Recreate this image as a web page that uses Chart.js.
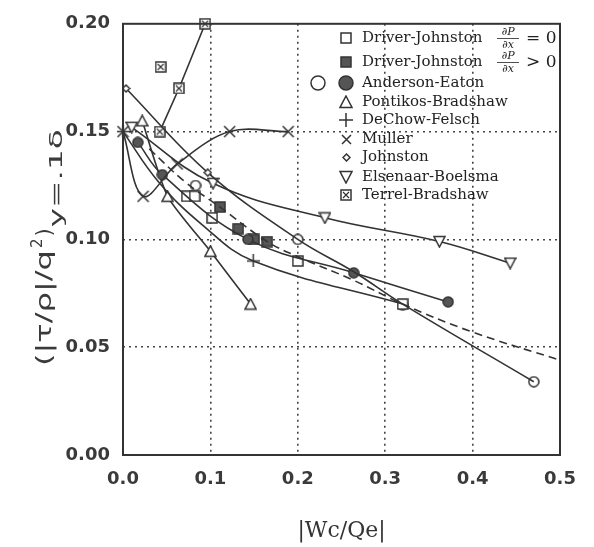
<!DOCTYPE html>
<html>
<head>
<meta charset="utf-8">
<script src="https://cdn.jsdelivr.net/npm/chart.js@4.4.1/dist/chart.umd.min.js"></script>
<style>
  html, body { margin: 0; padding: 0; background: #fff; }
  #wrap { width: 594px; height: 547px; }
</style>
</head>
<body>
<div id="wrap"><canvas id="chart" width="594" height="547"></canvas></div>
<script>
// tick labels
const xTickLabels = ['0.0', '0.1', '0.2', '0.3', '0.4', '0.5'];
const yTickLabels = ['0.00', '0.05', '0.10', '0.15', '0.20'];

const seriesNames = ['Driver-Johnston', 'Driver-Johnston', 'Anderson-Eaton', 'Pontikos-Bradshaw',
    'DeChow-Felsch', 'Muller', 'Johnston', 'Elsenaar-Boelsma', 'Terrel-Bradshaw'];

// Driver-Johnston, dP/dx = 0 (open squares)
const djZeroX = [0.073, 0.082, 0.102, 0.200, 0.320];
const djZeroY = [0.120, 0.120, 0.110, 0.090, 0.070];

// Driver-Johnston, dP/dx > 0 (filled squares)
const djPosX = [0.111, 0.132, 0.150, 0.165];
const djPosY = [0.115, 0.105, 0.100, 0.099];

// dashed curve through the Driver-Johnston data
const fitX = [0.030, 0.070, 0.111, 0.165, 0.200, 0.264, 0.320, 0.400, 0.500];
const fitY = [0.142, 0.127, 0.115, 0.099, 0.092, 0.081, 0.070, 0.057, 0.044];

// Anderson-Eaton
const aeFillX = [0.017, 0.045, 0.143, 0.264, 0.372];
const aeFillY = [0.145, 0.130, 0.100, 0.0845, 0.071];
const aeOpenX = [0.083, 0.200, 0.320, 0.470];
const aeOpenY = [0.125, 0.100, 0.0695, 0.034];

// Pontikos-Bradshaw
const pbX = [0.022, 0.051, 0.100, 0.146];
const pbY = [0.155, 0.120, 0.0945, 0.070];

// DeChow-Felsch (marks only on measured points)
const dfX = [0.000, 0.040, 0.090, 0.149, 0.320];
const dfY = [0.150, 0.127, 0.107, 0.090, 0.070];
const dfMarked = [true, false, false, true, false];

// Muller
const muX = [0.000, 0.023, 0.062, 0.122, 0.189];
const muY = [0.150, 0.120, 0.135, 0.150, 0.150];

// Johnston
const joX = [0.0035, 0.097, 0.200, 0.264, 0.320, 0.470];
const joY = [0.170, 0.131, 0.100, 0.085, 0.070, 0.034];
const joMarked = [true, true, false, false, false, false];

// Elsenaar-Boelsma
const ebX = [0.010, 0.103, 0.231, 0.362, 0.443];
const ebY = [0.152, 0.126, 0.110, 0.099, 0.089];

// Terrel-Bradshaw
const tbX = [0.042, 0.064, 0.094];
const tbY = [0.150, 0.170, 0.200];
const tbExtraX = [0.043];
const tbExtraY = [0.180];

const ink = '#333';
const fillInk = '#555';

function pts(xs, ys) {
    return xs.map((x, i) => ({ x: x, y: ys[i] }));
}

// little canvases used as point styles (and again in the legend)
function marker(kind, size) {
    const c = document.createElement('canvas');
    c.width = size; c.height = size;
    const g = c.getContext('2d');
    const m = size / 2;
    g.strokeStyle = ink;
    g.lineWidth = 1.5;
    g.fillStyle = '#fff';
    g.beginPath();
    if (kind === 'square' || kind === 'squareFill' || kind === 'boxX') {
        g.rect(1, 1, size - 2, size - 2);
        g.fillStyle = kind === 'squareFill' ? fillInk : '#fff';
        g.fill(); g.stroke();
        if (kind === 'boxX') {
            g.beginPath();
            g.moveTo(3, 3); g.lineTo(size - 3, size - 3);
            g.moveTo(size - 3, 3); g.lineTo(3, size - 3);
            g.lineWidth = 1.2;
            g.stroke();
        }
    } else if (kind === 'circle' || kind === 'circleFill') {
        g.arc(m, m, m - 1, 0, Math.PI * 2);
        g.fillStyle = kind === 'circleFill' ? fillInk : '#fff';
        g.fill(); g.stroke();
    } else if (kind === 'triUp') {
        g.moveTo(m, 1); g.lineTo(size - 1, size - 1.5); g.lineTo(1, size - 1.5); g.closePath();
        g.fill(); g.stroke();
    } else if (kind === 'triDown') {
        g.moveTo(1, 1.5); g.lineTo(size - 1, 1.5); g.lineTo(m, size - 1); g.closePath();
        g.fill(); g.stroke();
    } else if (kind === 'plus') {
        g.moveTo(m, 0); g.lineTo(m, size); g.moveTo(0, m); g.lineTo(size, m);
        g.stroke();
    } else if (kind === 'cross') {
        g.moveTo(1, 1); g.lineTo(size - 1, size - 1); g.moveTo(size - 1, 1); g.lineTo(1, size - 1);
        g.stroke();
    } else if (kind === 'diamond') {
        g.moveTo(m, 1); g.lineTo(size - 1, m); g.lineTo(m, size - 1); g.lineTo(1, m); g.closePath();
        g.fill(); g.stroke();
    }
    return c;
}

const mk = {
    square: marker('square', 12),
    squareFill: marker('squareFill', 12),
    circle: marker('circle', 12),
    circleFill: marker('circleFill', 12),
    triUp: marker('triUp', 13),
    triDown: marker('triDown', 13),
    plus: marker('plus', 13),
    cross: marker('cross', 13),
    diamond: marker('diamond', 9),
    boxX: marker('boxX', 12)
};
const lg = {
    square: marker('square', 12),
    squareFill: marker('squareFill', 12),
    circle: marker('circle', 16),
    circleFill: marker('circleFill', 16),
    triUp: marker('triUp', 14),
    triDown: marker('triDown', 14),
    plus: marker('plus', 14),
    cross: marker('cross', 11),
    diamond: marker('diamond', 9),
    boxX: marker('boxX', 12)
};

function series(data, style, opts) {
    return Object.assign({
        data: data,
        showLine: true,
        borderColor: ink,
        borderWidth: 1.6,
        pointStyle: style,
        pointRadius: 6,
        pointHoverRadius: 6,
        tension: 0.4,
        clip: false,
        fill: false
    }, opts || {});
}

const datasets = [
    series(pts(fitX, fitY), false, { borderDash: [8, 5], pointRadius: 0, tension: 0.4 }),
    series(pts(joX, joY), mk.diamond, { pointRadius: joMarked.map(b => b ? 6 : 0) }),
    series(pts(dfX, dfY), mk.plus, { pointRadius: dfMarked.map(b => b ? 6 : 0) }),
    series(pts(muX, muY), mk.cross, { tension: 0.35 }),
    series(pts(ebX, ebY), mk.triDown, {}),
    series(pts(aeFillX, aeFillY), mk.circleFill, {}),
    series(pts(pbX, pbY), mk.triUp, { tension: 0.2 }),
    series(pts(tbX, tbY), mk.boxX, { tension: 0 }),
    series(pts(tbExtraX, tbExtraY), mk.boxX, { showLine: false }),
    series(pts(djZeroX, djZeroY), mk.square, { showLine: false }),
    series(pts(aeOpenX, aeOpenY), mk.circle, { showLine: false }),
    series(pts(djPosX, djPosY), mk.squareFill, { showLine: false })
];

// draw text stretched to a given width
function fitText(ctx, text, x, y, width) {
    const w = ctx.measureText(text).width;
    ctx.save();
    ctx.translate(x, y);
    ctx.scale(width / w, 1);
    ctx.fillText(text, 0, 0);
    ctx.restore();
    return width;
}

const frameAndText = {
    id: 'frameAndText',
    afterDraw(chart) {
        const ctx = chart.ctx;
        const a = chart.chartArea;
        ctx.save();
        // plot frame
        ctx.strokeStyle = '#333';
        ctx.lineWidth = 2;
        ctx.strokeRect(a.left, a.top, a.right - a.left, a.bottom - a.top);

        // x title
        ctx.fillStyle = '#333';
        ctx.font = '22px "DejaVu Serif"';
        ctx.textAlign = 'center';
        ctx.textBaseline = 'middle';
        ctx.fillText('|Wc/Qe|', (a.left + a.right) / 2, 531);

        // y title, rotated
        ctx.save();
        ctx.translate(51, 366);
        ctx.rotate(-Math.PI / 2);
        ctx.textAlign = 'left';
        ctx.textBaseline = 'alphabetic';
        ctx.fillStyle = '#3a3a3a';
        ctx.font = '21px "DejaVu Sans"';
        let x = fitText(ctx, '(|\u03c4/\u03c1|/q', 0, 0, 116);
        ctx.font = '15px "DejaVu Sans"';
        ctx.fillText('2', x + 2, -9);
        x += ctx.measureText('2').width + 4;
        ctx.font = '21px "DejaVu Sans"';
        ctx.fillText(')', x, 0);
        x += ctx.measureText(')').width + 1;
        ctx.font = '18px "DejaVu Sans"';
        fitText(ctx, 'y=.1\u03b4', x, 11, 98);
        ctx.restore();

        // legend
        const rows = [38, 62, 83, 102, 120, 139, 157, 177, 195];
        const icons = [lg.square, lg.squareFill, lg.circleFill, lg.triUp, lg.plus, lg.cross, lg.diamond, lg.triDown, lg.boxX];
        const tx = 362, ix = 346;
        ctx.fillStyle = '#222';
        ctx.strokeStyle = '#222';
        ctx.font = '15px "DejaVu Serif"';
        ctx.textAlign = 'left';
        ctx.textBaseline = 'middle';
        rows.forEach((ry, i) => {
            const ic = icons[i];
            ctx.drawImage(ic, Math.round(ix - ic.width / 2), Math.round(ry - ic.height / 2));
            ctx.fillText(seriesNames[i], tx, ry);
        });
        ctx.drawImage(lg.circle, 318 - 8, rows[2] - 8);
        // dP/dx fractions
        [[0, '= 0'], [1, '> 0']].forEach(([i, rel]) => {
            const ry = rows[i];
            const fx = 495;
            ctx.font = 'italic 11px "DejaVu Serif"';
            ctx.textAlign = 'center';
            ctx.fillText('\u2202P', fx + 13, ry - 6);
            ctx.fillText('\u2202x', fx + 13, ry + 7);
            ctx.lineWidth = 0.8;
            ctx.beginPath();
            ctx.moveTo(fx + 2, ry + 0.5); ctx.lineTo(fx + 24, ry + 0.5);
            ctx.stroke();
            ctx.font = '17px "DejaVu Serif"';
            ctx.textAlign = 'left';
            ctx.fillText(rel, fx + 31, ry + 1);
        });
        ctx.restore();
    }
};

function gridColor(c, lo, hi) {
    const v = c.tick ? c.tick.value : null;
    return (v !== null && v > lo + 1e-9 && v < hi - 1e-9) ? '#444' : 'rgba(0,0,0,0)';
}

new Chart(document.getElementById('chart'), {
    type: 'scatter',
    data: { datasets: datasets },
    options: {
        responsive: false,
        animation: false,
        events: [],
        layout: { padding: { left: 0, right: 34, top: 15, bottom: 0 } },
        plugins: { legend: { display: false }, tooltip: { enabled: false } },
        scales: {
            x: {
                type: 'linear',
                min: 0, max: 0.5,
                afterFit: s => { s.height = 92; },
                afterBuildTicks: s => { s.ticks = xTickLabels.map(t => ({ value: parseFloat(t) })); },
                ticks: {
                    callback: (v, i) => xTickLabels[i],
                    font: { family: 'DejaVu Sans', size: 18, weight: 'bold' },
                    color: '#3a3a3a',
                    padding: 14,
                    maxRotation: 0
                },
                grid: { drawTicks: false, lineWidth: 1.6, color: c => gridColor(c, 0, 0.5) },
                border: { display: false, dash: [2, 4] }
            },
            y: {
                type: 'linear',
                min: 0, max: 0.2,
                afterFit: s => { s.width = 123; },
                afterBuildTicks: s => { s.ticks = yTickLabels.map(t => ({ value: parseFloat(t) })); },
                ticks: {
                    callback: (v, i) => yTickLabels[i],
                    font: { family: 'DejaVu Sans', size: 18, weight: 'bold' },
                    color: '#3a3a3a',
                    padding: 13
                },
                grid: { drawTicks: false, lineWidth: 1.6, color: c => gridColor(c, 0, 0.2) },
                border: { display: false, dash: [2, 4] }
            }
        }
    },
    plugins: [frameAndText]
});
</script>
</body>
</html>
